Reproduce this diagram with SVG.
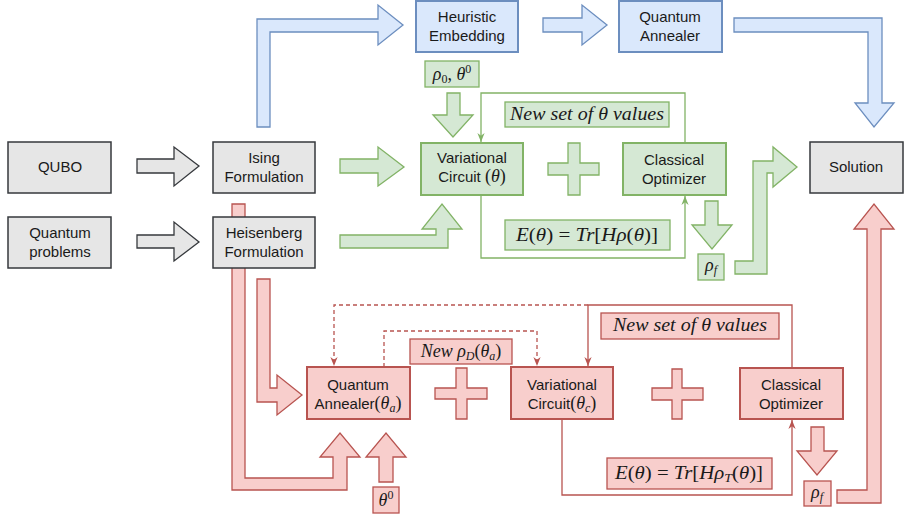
<svg xmlns="http://www.w3.org/2000/svg" width="905" height="517" viewBox="0 0 905 517">
<defs>
<style>
.gray{fill:#e6e6e6;stroke:#36393d;stroke-width:1.5}
.blue{fill:#dae8fc;stroke:#6c8ebf;stroke-width:2}
.blueA{fill:#dae8fc;stroke:#6c8ebf;stroke-width:1.3}
.green{fill:#d5e8d4;stroke:#82b366;stroke-width:2}
.greenA{fill:#d5e8d4;stroke:#82b366;stroke-width:1.3}
.red{fill:#f8cecc;stroke:#b85450;stroke-width:2}
.redA{fill:#f8cecc;stroke:#b85450;stroke-width:1.3}
.grayA{fill:#e6e6e6;stroke:#36393d;stroke-width:1.3}
.t{font-family:"Liberation Sans",Arial,sans-serif;font-size:15px;fill:#1a1a1a;text-anchor:middle}
.m{font-family:"Liberation Serif","Times New Roman",serif;font-size:18px;fill:#1a1a1a;text-anchor:middle}
.i{font-style:italic}
.lg{fill:none;stroke:#82b366;stroke-width:1.3}
.lr{fill:none;stroke:#b85450;stroke-width:1.3}
.dr{fill:none;stroke:#b85450;stroke-width:1.3;stroke-dasharray:4 3}
</style>
<marker id="ag" viewBox="0 0 10 10" refX="10" refY="5" markerWidth="9" markerHeight="9" markerUnits="userSpaceOnUse" orient="auto"><path d="M0,1 L10,5 L0,9 L3,5 Z" fill="#82b366"/></marker>
<marker id="ar" viewBox="0 0 10 10" refX="10" refY="5" markerWidth="9" markerHeight="9" markerUnits="userSpaceOnUse" orient="auto"><path d="M0,1 L10,5 L0,9 L3,5 Z" fill="#b85450"/></marker>
</defs>

<g id="connectors">
<path class="grayA" d="M137,159 L174,159 L174,147 L199,166 L174,186 L174,173 L137,173 Z"/>
<path class="grayA" d="M137,235 L174,235 L174,222 L199,242 L174,261 L174,248 L137,248 Z"/>
<path class="blueA" d="M257,127 L257,19 L378,19 L378,5 L403,25 L378,45 L378,32 L270,32 L270,127 Z"/>
<path class="blueA" d="M543,18 L582,18 L582,5 L607,25 L582,45 L582,32 L543,32 Z"/>
<path class="blueA" d="M734,18 L882,18 L882,103 L894,103 L874,127 L855,103 L868,103 L868,32 L734,32 Z"/>
<path class="greenA" d="M340,159 L378,159 L378,147 L404,167 L378,186 L378,173 L340,173 Z"/>
<path class="greenA" d="M340,235 L436,235 L436,229 L422,229 L442,204 L462,229 L448,229 L448,248 L340,248 Z"/>
<path class="greenA" d="M447,93 L460,93 L460,115 L473,115 L453,137 L433,115 L447,115 Z"/>
<path class="greenA" d="M705,201 L718,201 L718,225 L732,225 L712,249 L692,225 L705,225 Z"/>
<path class="greenA" d="M735,261 L753,261 L753,161 L773,161 L773,147 L797,167 L773,187 L773,173 L767,173 L767,274 L735,274 Z"/>
<path class="greenA" d="M568,143 L580,143 L580,163 L599,163 L599,175 L580,175 L580,195 L568,195 L568,175 L548,175 L548,163 L568,163 Z"/>
<path class="redA" d="M232,204 L245,204 L245,478 L333,478 L333,457 L320,457 L340,433 L360,457 L347,457 L347,490 L232,490 Z"/>
<path class="redA" d="M257,279 L270,279 L270,388 L277,388 L277,375 L302,395 L277,415 L277,402 L257,402 Z"/>
<path class="redA" d="M379,482 L379,457 L366,457 L386,433 L406,457 L393,457 L393,482 Z"/>
<path class="redA" d="M811,427 L824,427 L824,451 L837,451 L817,475 L797,451 L811,451 Z"/>
<path class="redA" d="M837,490 L867,490 L867,229 L854,229 L874,204 L894,229 L881,229 L881,503 L837,503 Z"/>
<path class="redA" d="M456,368 L467,368 L467,388 L487,388 L487,399 L467,399 L467,419 L456,419 L456,399 L435,399 L435,388 L456,388 Z"/>
<path class="redA" d="M672,369 L682,369 L682,388 L703,388 L703,400 L682,400 L682,419 L672,419 L672,400 L652,400 L652,388 L672,388 Z"/>
<path class="lg" d="M685,143 L685,93 L481,93 L481,142" marker-end="url(#ag)"/>
<path class="lg" d="M481,195 L481,258 L685,258 L685,196" marker-end="url(#ag)"/>
<path class="lr" d="M792,368 L792,305 L588,305 L588,366" marker-end="url(#ar)"/>
<path class="lr" d="M562,419 L562,495 L792,495 L792,420" marker-end="url(#ar)"/>
<path class="dr" d="M588,305 L334,305 L334,366" marker-end="url(#ar)"/>
<path class="dr" d="M384,367 L384,331 L537,331 L537,366" marker-end="url(#ar)"/>
</g>

<g id="qubo"><rect class="gray" x="8" y="142" width="103" height="51"/><text class="t" x="60" y="172">QUBO</text></g>
<g id="quantum-problems"><rect class="gray" x="8" y="217" width="103" height="51"/><text class="t" x="60" y="238">Quantum</text><text class="t" x="60" y="257">problems</text></g>
<g id="ising"><rect class="gray" x="213" y="142" width="102" height="51"/><text class="t" x="264" y="163">Ising</text><text class="t" x="264" y="182">Formulation</text></g>
<g id="heisenberg"><rect class="gray" x="213" y="217" width="102" height="51"/><text class="t" x="264" y="238">Heisenberg</text><text class="t" x="264" y="257">Formulation</text></g>
<g id="solution"><rect class="gray" x="810" y="142" width="93" height="51"/><text class="t" x="856" y="172">Solution</text></g>

<g id="heuristic"><rect class="blue" x="416" y="1" width="102" height="51"/><text class="t" x="467" y="22">Heuristic</text><text class="t" x="467" y="41">Embedding</text></g>
<g id="qa-blue"><rect class="blue" x="619" y="1" width="103" height="51"/><text class="t" x="670" y="22">Quantum</text><text class="t" x="670" y="41">Annealer</text></g>

<g id="vc-green"><rect class="green" x="421" y="143" width="102" height="52"/><text class="t" x="472" y="163">Variational</text><text class="t" x="472" y="182">Circuit <tspan class="m" style="text-anchor:start">(<tspan class="i">θ</tspan>)</tspan></text></g>
<g id="co-green"><rect class="green" x="623" y="143" width="103" height="52"/><text class="t" x="674" y="165">Classical</text><text class="t" x="674" y="184">Optimizer</text></g>
<g id="lbl-rho0"><rect class="greenA" x="425" y="61" width="54" height="26"/><text class="m" x="452" y="80"><tspan class="i">ρ</tspan><tspan font-size="12" dy="3">0</tspan><tspan dy="-3">, </tspan><tspan class="i">θ</tspan><tspan font-size="12" dy="-7">0</tspan></text></g>
<g id="lbl-newtheta-g"><rect class="greenA" x="505" y="102" width="164" height="25"/><text class="m i" x="587" y="120" textLength="154" lengthAdjust="spacingAndGlyphs">New set of θ values</text></g>
<g id="lbl-energy-g"><rect class="greenA" x="505" y="220" width="165" height="30"/><text class="m" x="587" y="241" textLength="142" lengthAdjust="spacingAndGlyphs"><tspan class="i">E</tspan>(<tspan class="i">θ</tspan>) = <tspan class="i">Tr</tspan>[<tspan class="i">Hρ</tspan>(<tspan class="i">θ</tspan>)]</text></g>
<g id="lbl-rhof-g"><rect class="greenA" x="698" y="254" width="26" height="26"/><text class="m" x="711" y="271"><tspan class="i">ρ</tspan><tspan class="i" font-size="12" dy="3">f</tspan></text></g>

<g id="qa-red"><rect class="red" x="307" y="367" width="103" height="52"/><text class="t" x="358" y="390">Quantum</text><text class="t" x="358" y="409">Annealer<tspan class="m">(<tspan class="i">θ</tspan><tspan class="i" font-size="12" dy="3">a</tspan><tspan dy="-3">)</tspan></tspan></text></g>
<g id="vc-red"><rect class="red" x="511" y="367" width="102" height="52"/><text class="t" x="562" y="390">Variational</text><text class="t" x="562" y="409">Circuit<tspan class="m">(<tspan class="i">θ</tspan><tspan class="i" font-size="12" dy="3">c</tspan><tspan dy="-3">)</tspan></tspan></text></g>
<g id="co-red"><rect class="red" x="740" y="368" width="103" height="51"/><text class="t" x="791" y="390">Classical</text><text class="t" x="791" y="409">Optimizer</text></g>
<g id="lbl-newrho"><rect class="redA" x="410" y="339" width="102" height="25"/><text class="m" x="461" y="357"><tspan class="i">New ρ</tspan><tspan class="i" font-size="12" dy="3">D</tspan><tspan dy="-3">(</tspan><tspan class="i">θ</tspan><tspan class="i" font-size="12" dy="3">a</tspan><tspan dy="-3">)</tspan></text></g>
<g id="lbl-newtheta-r"><rect class="redA" x="601" y="313" width="178" height="26"/><text class="m i" x="690" y="331" textLength="154" lengthAdjust="spacingAndGlyphs">New set of θ values</text></g>
<g id="lbl-energy-r"><rect class="redA" x="607" y="458" width="165" height="31"/><text class="m" x="689" y="479" textLength="148" lengthAdjust="spacingAndGlyphs"><tspan class="i">E</tspan>(<tspan class="i">θ</tspan>) = <tspan class="i">Tr</tspan>[<tspan class="i">Hρ</tspan><tspan class="i" font-size="12" dy="3">T</tspan><tspan dy="-3">(</tspan><tspan class="i">θ</tspan>)]</text></g>
<g id="lbl-theta0-r"><rect class="redA" x="373" y="487" width="26" height="26"/><text class="m" x="386" y="506"><tspan class="i">θ</tspan><tspan font-size="12" dy="-7">0</tspan></text></g>
<g id="lbl-rhof-r"><rect class="redA" x="804" y="481" width="27" height="25"/><text class="m" x="817" y="498"><tspan class="i">ρ</tspan><tspan class="i" font-size="12" dy="3">f</tspan></text></g>
</svg>
